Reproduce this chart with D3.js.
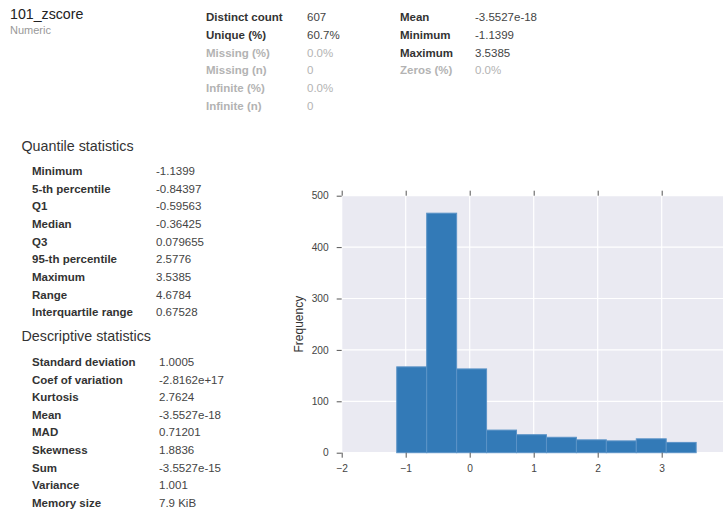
<!DOCTYPE html>
<html><head><meta charset="utf-8">
<script src="https://cdn.jsdelivr.net/npm/d3@7"></script>
<style>
html,body{margin:0;padding:0;background:#fff;}
svg{display:block;font-family:"Liberation Sans",Arial,sans-serif;}
</style></head>
<body><svg id="c" width="723" height="512"></svg>
<script>
// ---- data ----
const title = "101_zscore";
const subtitle = "Numeric";
const topLeftLabels = ["Distinct count","Unique (%)","Missing (%)","Missing (n)","Infinite (%)","Infinite (n)"];
const topLeftValues = ["607","60.7%","0.0%","0","0.0%","0"];
const topLeftMuted  = [false,false,true,true,true,true];
const topRightLabels = ["Mean","Minimum","Maximum","Zeros (%)"];
const topRightValues = ["-3.5527e-18","-1.1399","3.5385","0.0%"];
const topRightMuted  = [false,false,false,true];
const quantileLabels = ["Minimum","5-th percentile","Q1","Median","Q3","95-th percentile","Maximum","Range","Interquartile range"];
const quantileValues = ["-1.1399","-0.84397","-0.59563","-0.36425","0.079655","2.5776","3.5385","4.6784","0.67528"];
const descLabels = ["Standard deviation","Coef of variation","Kurtosis","Mean","MAD","Skewness","Sum","Variance","Memory size"];
const descValues = ["1.0005","-2.8162e+17","2.7624","-3.5527e-18","0.71201","1.8836","-3.5527e-15","1.001","7.9 KiB"];
const histMin = -1.1399, histMax = 3.5385;
const binCounts = [167, 466, 163, 44, 35, 30, 25, 23, 27, 20];
const xTicks = [-2,-1,0,1,2,3];
const yTicks = [0,100,200,300,400,500];

(function(){
const svg = d3.select("#c");

// ---- header ----
svg.append("text").attr("x",10).attr("y",19).attr("font-size",14.2).attr("fill","#222").text(title);
svg.append("text").attr("x",10).attr("y",34).attr("font-size",11).attr("fill","#999").text(subtitle);

function table(labels, values, muted, lx, vx, y0, dy, labelColor, valueColor){
  labels.forEach((l,i)=>{
    const m = muted && muted[i];
    svg.append("text").attr("x",lx).attr("y",y0+i*dy).attr("font-size",11.5).attr("font-weight","bold")
      .attr("fill", m ? "#b3b3b3" : labelColor).text(l);
    svg.append("text").attr("x",vx).attr("y",y0+i*dy).attr("font-size",11.5)
      .attr("fill", m ? "#b3b3b3" : valueColor).text(values[i]);
  });
}
table(topLeftLabels, topLeftValues, topLeftMuted, 206, 307, 21, 17.8, "#333", "#444");
table(topRightLabels, topRightValues, topRightMuted, 400, 475, 21, 17.8, "#333", "#444");

svg.append("text").attr("x",21.5).attr("y",151).attr("font-size",14.3).attr("fill","#333").text("Quantile statistics");
table(quantileLabels, quantileValues, null, 32, 156, 174.8, 17.7, "#333", "#444");
svg.append("text").attr("x",21.5).attr("y",341.3).attr("font-size",14.3).attr("fill","#333").text("Descriptive statistics");
table(descLabels, descValues, null, 32, 159, 365.9, 17.62, "#333", "#444");

// ---- histogram ----
const pL = 341.7, pT = 195.7, pB = 452.7, pR = 341.7 + 6*64;
const x = d3.scaleLinear().domain([-2,4]).range([pL,pR]);
const y = d3.scaleLinear().domain([0,500]).range([pB,pT]);
const binW = (histMax-histMin)/binCounts.length;
const bins = binCounts.map((c,i)=>({x0:histMin+i*binW, x1:histMin+(i+1)*binW, c}));

const g = svg.append("g");
g.append("rect").attr("x",pL).attr("y",pT).attr("width",pR-pL).attr("height",pB-pT).attr("fill","#eaeaf2");
g.selectAll(".gx").data(xTicks.concat([4])).enter().append("line")
  .attr("x1",d=>x(d)).attr("x2",d=>x(d)).attr("y1",pT).attr("y2",pB)
  .attr("stroke","#fff").attr("stroke-width",1.2);
g.selectAll(".gy").data(yTicks).enter().append("line")
  .attr("x1",pL).attr("x2",pR).attr("y1",d=>y(d)).attr("y2",d=>y(d))
  .attr("stroke","#fff").attr("stroke-width",1.2);
g.selectAll(".bar").data(bins).enter().append("rect")
  .attr("x",d=>x(d.x0)).attr("width",d=>x(d.x1)-x(d.x0))
  .attr("y",d=>y(d.c)).attr("height",d=>y(0)-y(d.c))
  .attr("fill","#337ab7").attr("stroke","#5b93c7").attr("stroke-width",1);

const tickColor = "#555";
const fmt = d => d<0 ? "\u2212"+Math.abs(d) : String(d);
const ax = svg.append("g").attr("transform",`translate(0,${pB})`)
  .call(d3.axisBottom(x).tickValues(xTicks).tickSize(5).tickPadding(7).tickFormat(fmt));
const axTop = svg.append("g").attr("transform",`translate(0,${pT})`)
  .call(d3.axisTop(x).tickValues(xTicks).tickSize(5).tickFormat(""));
const ay = svg.append("g").attr("transform",`translate(${pL},0)`)
  .call(d3.axisLeft(y).tickValues(yTicks).tickSize(5).tickPadding(8));
[ax,axTop,ay].forEach(a=>{
  a.select(".domain").remove();
  a.selectAll(".tick line").attr("stroke",tickColor).attr("stroke-width",1);
  a.selectAll("text").attr("font-size",10.2).attr("fill","#444").attr("font-family","'Liberation Sans',Arial,sans-serif");
});
svg.append("text").attr("transform",`translate(303,${(pT+pB)/2}) rotate(-90)`)
  .attr("text-anchor","middle").attr("font-size",12).attr("fill","#333").text("Frequency");
})();
</script></body></html>
